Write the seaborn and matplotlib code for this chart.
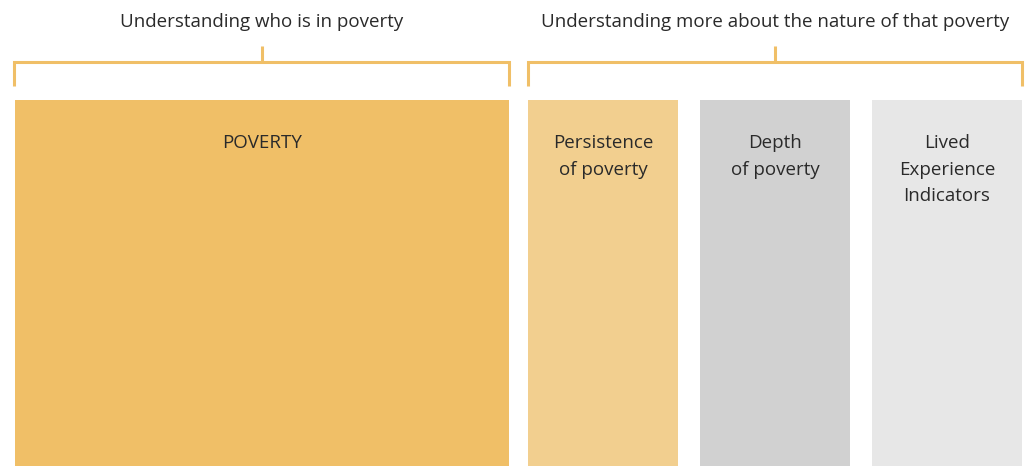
import matplotlib
matplotlib.use("Agg")
import matplotlib.pyplot as plt
import seaborn as sns

sns.set_theme(style="white")
plt.rcParams['font.family'] = ['Open Sans', 'DejaVu Sans']

# group headings and the span (in pixel-like units) each bracket covers
groups = ["Understanding who is in poverty",
          "Understanding more about the nature of that poverty"]
group_left = [14, 528]
group_right = [509, 1022]

# the boxes beneath the brackets
boxes = ["POVERTY", "Persistence\nof poverty", "Depth\nof poverty",
         "Lived\nExperience\nIndicators"]
box_left = [15, 528, 700, 872]
box_right = [509, 678, 850, 1022]
box_colors = ["#F0BF67", "#F2CF8F", "#D1D1D1", "#E7E7E7"]

W, H = 1030, 466
fig = plt.figure(figsize=(W / 100, H / 100), dpi=100)
ax = fig.add_axes([0, 0, 1, 1])
ax.set_xlim(0, W)
ax.set_ylim(H, 0)
ax.axis("off")

bracket_color = "#F0BF67"
text_color = "#2a2a2a"

for label, l, r in zip(groups, group_left, group_right):
    mid = (l + r) / 2
    ax.plot([l, l, r, r], [86, 62, 62, 86], color=bracket_color, lw=2.2,
            solid_joinstyle="miter", solid_capstyle="butt")
    ax.plot([mid, mid], [46, 62], color=bracket_color, lw=2.2, solid_capstyle="butt")
    ax.text(mid, 22, label, ha="center", va="center", fontsize=13.5, color=text_color)

for label, l, r, c in zip(boxes, box_left, box_right, box_colors):
    ax.bar(l, H - 100, width=r - l, bottom=100, align="edge", color=c, linewidth=0)
    ax.text((l + r) / 2, 134.5, label, ha="center", va="top", fontsize=13.5,
            color=text_color, linespacing=1.58)

fig.savefig("out.png", dpi=100, facecolor="white")
